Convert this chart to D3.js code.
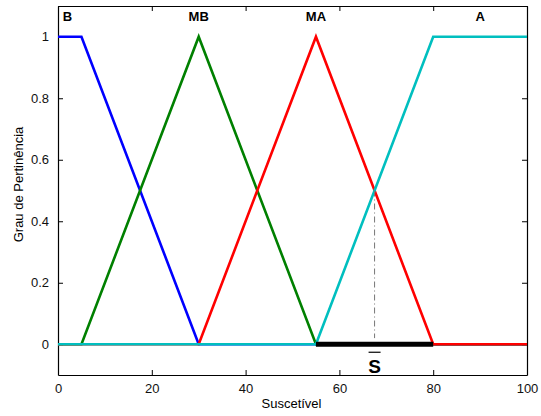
<!DOCTYPE html>
<html>
<head>
<meta charset="utf-8">
<script src="https://cdn.jsdelivr.net/npm/d3@7"></script>
<style>
body { margin: 0; background: #fff; }
svg { font-family: "Liberation Sans", Arial, sans-serif; }
</style>
</head>
<body>
<script>
// membership functions (x, grau)
const xB  = [0, 5, 30, 100];
const yB  = [1, 1, 0, 0];
const xMB = [0, 5, 30, 55, 100];
const yMB = [0, 0, 1, 0, 0];
const xMA = [0, 30, 55, 80, 100];
const yMA = [0, 0, 1, 0, 0];
const xA  = [0, 55, 80, 100];
const yA  = [0, 0, 1, 1];
const names = ["B", "MB", "MA", "A"];
const labelX = [2, 30, 55, 90];
const colors = ["#0000ff", "#008000", "#ff0000", "#00bfbf"];
const xTicks = [0, 20, 40, 60, 80, 100];
const yTicks = [0, 0.2, 0.4, 0.6, 0.8, 1];
const sBar = [55, 80];
const sValue = 67.5;

let width = 541, height = 416;
let margin = {top: 6, right: 14, bottom: 41, left: 58};

let svg = d3.select("body").append("svg")
    .attr("width", width).attr("height", height);

let x = d3.scaleLinear().domain([0, 100]).range([margin.left, width - margin.right]);
let y = d3.scaleLinear().domain([-0.1, 1.1]).range([height - margin.bottom, margin.top]);

let series = [[xB, yB], [xMB, yMB], [xMA, yMA], [xA, yA]];
let line = d3.line().x(d => x(d[0])).y(d => y(d[1]));

// axes, matlab-like with inward ticks
let fmt = d3.format("~g");
svg.append("g").attr("transform", `translate(0,${y(-0.1)})`)
    .call(d3.axisBottom(x).tickValues(xTicks).tickSizeInner(-5).tickSizeOuter(0).tickPadding(9).tickFormat(fmt));
svg.append("g").attr("transform", `translate(${x(0)},0)`)
    .call(d3.axisLeft(y).tickValues(yTicks).tickSizeInner(-5).tickSizeOuter(0).tickPadding(9).tickFormat(fmt));
svg.append("g").attr("transform", `translate(0,${y(1.1)})`)
    .call(d3.axisTop(x).tickValues(xTicks).tickSizeInner(-5).tickSizeOuter(0).tickFormat(""));
svg.append("g").attr("transform", `translate(${x(100)},0)`)
    .call(d3.axisRight(y).tickValues(yTicks).tickSizeInner(-5).tickSizeOuter(0).tickFormat(""));
svg.selectAll(".domain").attr("stroke", "#000").attr("stroke-width", 1.2);
svg.selectAll(".tick line").attr("stroke", "#000");
svg.selectAll(".tick text").attr("font-size", 13).attr("fill", "#111")
    .attr("font-family", "'Liberation Sans', Arial, sans-serif");

// curves
series.forEach((s, i) => {
    svg.append("path")
        .datum(d3.zip(s[0], s[1]))
        .attr("d", line)
        .attr("fill", "none")
        .attr("stroke", colors[i])
        .attr("stroke-width", 2.6);
});

// defuzzified interval and value
svg.append("line")
    .attr("x1", x(sBar[0])).attr("x2", x(sBar[1]))
    .attr("y1", y(0)).attr("y2", y(0))
    .attr("stroke", "#000").attr("stroke-width", 5);
svg.append("line")
    .attr("x1", x(sValue)).attr("x2", x(sValue))
    .attr("y1", y(0.5)).attr("y2", y(0.02))
    .attr("stroke", "#777").attr("stroke-width", 1)
    .attr("stroke-dasharray", "6,3,1,3");
svg.append("text")
    .attr("x", x(sValue)).attr("y", y(0) + 29)
    .attr("text-anchor", "middle")
    .attr("font-size", 19).attr("font-weight", "bold")
    .text("S");
svg.append("line")
    .attr("x1", x(sValue) - 6).attr("x2", x(sValue) + 6)
    .attr("y1", y(0) + 8).attr("y2", y(0) + 8)
    .attr("stroke", "#000").attr("stroke-width", 1.2);

// set labels
svg.append("g").selectAll("text").data(names).join("text")
    .attr("x", (d, i) => x(labelX[i]))
    .attr("y", y(1.05))
    .attr("text-anchor", "middle")
    .attr("font-size", 13).attr("font-weight", "bold")
    .text(d => d);

// axis titles
svg.append("text")
    .attr("x", x(50) - 1).attr("y", height - 8)
    .attr("text-anchor", "middle").attr("font-size", 13)
    .text("Suscetível");
svg.append("text")
    .attr("transform", `translate(23,${y(0.5) - 6}) rotate(-90)`)
    .attr("text-anchor", "middle").attr("font-size", 13)
    .text("Grau de Pertinência");
</script>
</body>
</html>
